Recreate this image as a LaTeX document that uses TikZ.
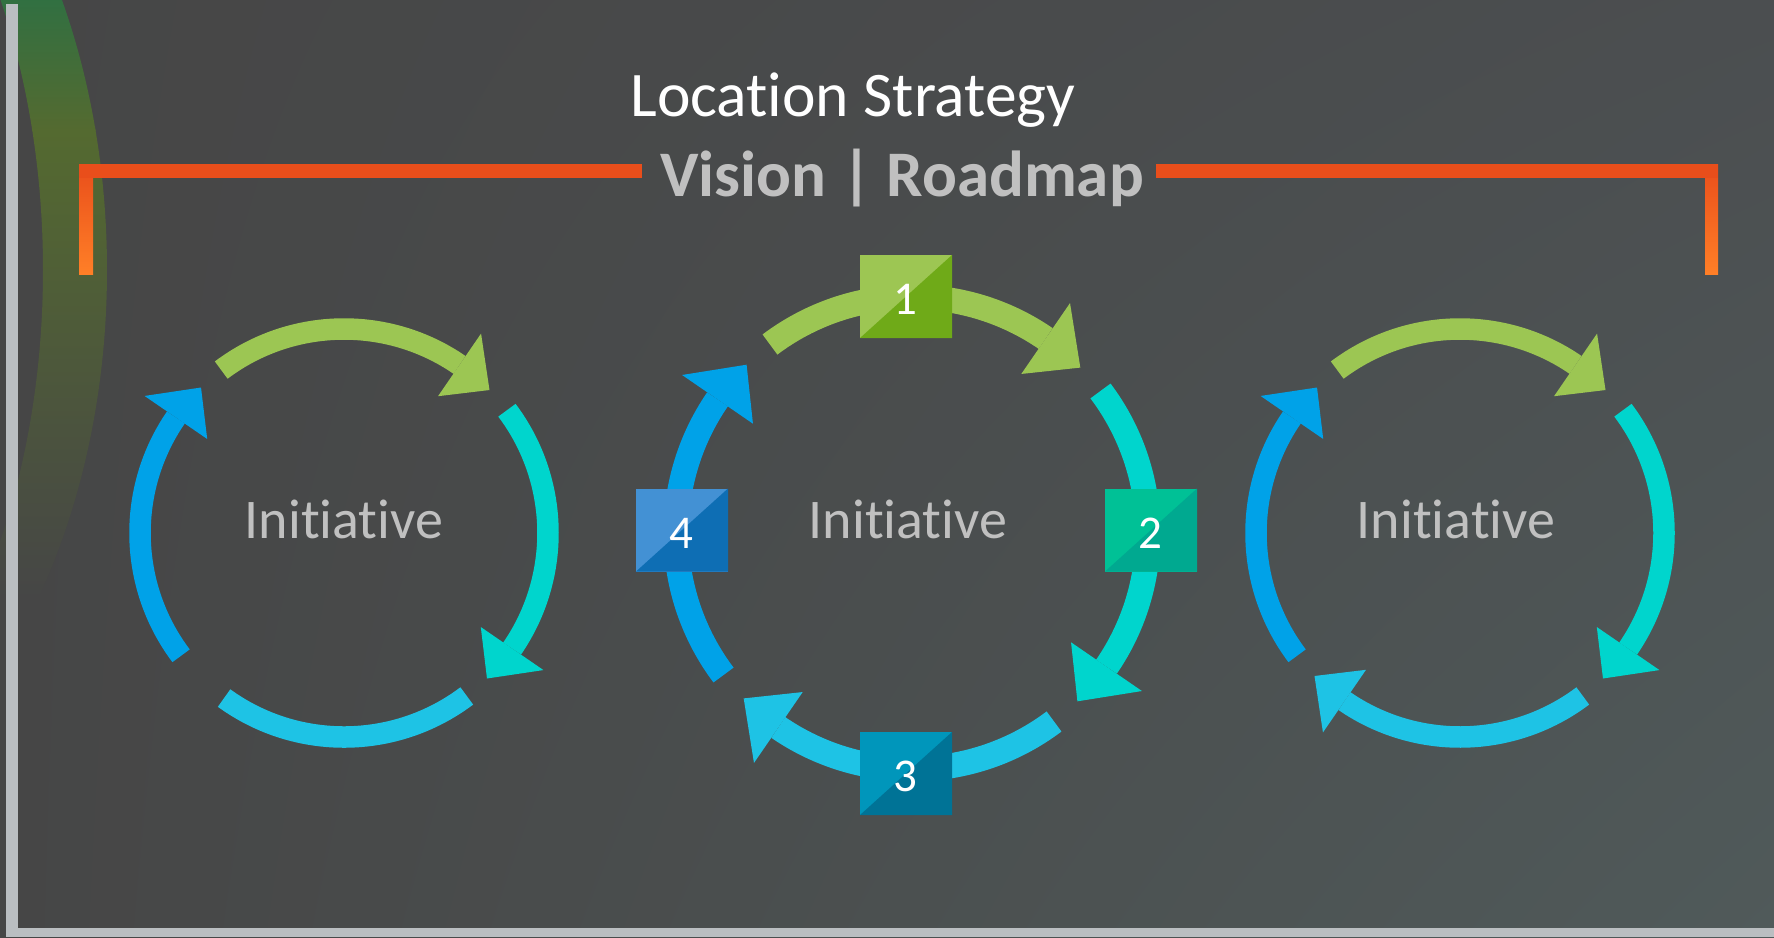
\documentclass[tikz,border=0pt]{standalone}
\usepackage{fontspec}
\setmainfont{Carlito}[RawFeature={-liga;-clig;-dlig}]
\usetikzlibrary{shadings}
\definecolor{bgTL}{RGB}{70,70,70}
\definecolor{bgTR}{RGB}{75,78,80}
\definecolor{bgBL}{RGB}{70,70,70}
\definecolor{bgBR}{RGB}{80,90,90}
\definecolor{glowTop}{RGB}{48,112,66}
\definecolor{glowMid}{RGB}{84,106,48}
\definecolor{glowLow}{RGB}{78,92,56}
\definecolor{framegray}{RGB}{186,190,193}
\definecolor{ored}{RGB}{233,78,27}
\definecolor{oorange}{RGB}{255,127,39}
\definecolor{txtgray}{RGB}{192,192,192}
\definecolor{cgreen}{RGB}{156,198,83}
\definecolor{cteal}{RGB}{0,213,205}
\definecolor{csky}{RGB}{30,195,229}
\definecolor{cblue}{RGB}{0,162,232}
\definecolor{bAl}{RGB}{157,198,83}
\definecolor{bAd}{RGB}{111,170,24}
\definecolor{bBl}{RGB}{0,193,150}
\definecolor{bBd}{RGB}{0,169,144}
\definecolor{bCl}{RGB}{0,150,187}
\definecolor{bCd}{RGB}{0,115,150}
\definecolor{bDl}{RGB}{67,145,212}
\definecolor{bDd}{RGB}{14,110,180}
\tikzset{
  initxt/.style={anchor=base, inner sep=0pt, text=txtgray, font=\fontsize{56}{67}\selectfont},
  numtxt/.style={inner sep=0pt, text=white, font=\fontsize{47}{56}\selectfont},
}
% #1 cx, #2 cy, #3 r, #4 w, #5 h, #6 tail angle, #7 color
\newcommand{\segarrow}[7]{%
  \pgfmathsetmacro{\segb}{#6-71.5}%
  \pgfmathsetmacro{\segt}{#6-82.5}%
  \draw[#7, line width=#4pt] ({#1+#3*cos(#6)},{#2-#3*sin(#6)}) arc[start angle={#6}, end angle={\segb}, radius=#3pt];
  \fill[#7] ({#1+(#3+#5)*cos(\segb)},{#2-(#3+#5)*sin(\segb)}) -- ({#1+#3*cos(\segt)},{#2-#3*sin(\segt)}) -- ({#1+(#3-#5)*cos(\segb)},{#2-(#3-#5)*sin(\segb)}) -- cycle;
}
\newcommand{\segplain}[7]{%
  \pgfmathsetmacro{\segb}{#6-73}%
  \draw[#7, line width=#4pt] ({#1+#3*cos(#6)},{#2-#3*sin(#6)}) arc[start angle={#6}, end angle={\segb}, radius=#3pt];
}
% #1 name, #2 x, #3 y, #4 light, #5 dark, #6 number
\newcommand{\numbox}[6]{%
  \fill[#4] ({#2-46},{#3-41.5}) rectangle ({#2+46},{#3+41.5});
  \fill[#5] ({#2-46},{#3+41.5}) -- ({#2+46},{#3+41.5}) -- ({#2+46},{#3-41.5}) -- cycle;
  \node[numtxt] (#1) at ({#2-1},{#3+3}) {#6};
}
\begin{document}
\begin{tikzpicture}[x=1pt,y=-1pt]
\useasboundingbox (0,0) rectangle (1774,937);
\shade[upper left=bgTL, upper right=bgTR, lower left=bgBL, lower right=bgBR] (0,0) rectangle (1774,937);

% faded green band at the left edge
\begin{scope}
  \clip (-300,-320) arc[start angle=90, end angle=-90, x radius=407pt, y radius=590pt]
        -- (-300,830) arc[start angle=-90, end angle=90, x radius=343pt, y radius=560pt] -- cycle;
  \shade[top color=glowTop, bottom color=glowMid] (0,-5) rectangle (200,130);
  \shade[top color=glowMid, middle color=glowLow, bottom color=bgBL] (0,129.5) rectangle (200,600);
\end{scope}

% frame
\fill[framegray] (6,4) rectangle (18,937);
\fill[framegray] (6,928) rectangle (1774,937);

% bracket
\shade[top color=ored, bottom color=oorange] (79,164) rectangle (93,274);
\fill[ored] (79,164) rectangle (641.5,178);
\shade[top color=ored, bottom color=oorange] (1705,164) rectangle (1718,274);
\fill[ored] (1156,164) rectangle (1718,178);

% titles
\node[anchor=base, inner sep=0pt, text=white, font=\fontsize{63.5}{76}\selectfont] (title) at (853,116) {Location Strategy};
\node[anchor=base, inner sep=0pt, text=txtgray, font=\fontsize{65}{78}\selectfont\bfseries] (subtitle) at (902,196) {Vision | Roadmap};

% left ring
\segarrow{344}{533}{204}{21.5}{38}{127}{cgreen}
\segarrow{344}{533}{204}{21.5}{38}{37}{cteal}
\segplain{344}{533}{204}{21.5}{38}{-53}{csky}
\segarrow{344}{533}{204}{21.5}{38}{-143}{cblue}
\node[initxt] (initL) at (344,538) {Initiative};

% middle ring
\segarrow{912}{533}{236}{25}{43}{127}{cgreen}
\segarrow{912}{533}{236}{25}{43}{37}{cteal}
\segarrow{912}{533}{236}{25}{43}{-53}{csky}
\segarrow{912}{533}{236}{25}{43}{-143}{cblue}
\node[initxt] (initM) at (908,538) {Initiative};
\numbox{n1}{906}{296.5}{bAl}{bAd}{1}
\numbox{n2}{1151}{530}{bBl}{bBd}{2}
\numbox{n3}{906}{773.5}{bCl}{bCd}{3}
\numbox{n4}{682}{530}{bDl}{bDd}{4}

% right ring
\segarrow{1460}{533}{204}{21.5}{38}{127}{cgreen}
\segarrow{1460}{533}{204}{21.5}{38}{37}{cteal}
\segarrow{1460}{533}{204}{21.5}{38}{-53}{csky}
\segarrow{1460}{533}{204}{21.5}{38}{-143}{cblue}
\node[initxt] (initR) at (1456,538) {Initiative};
\end{tikzpicture}
\end{document}
